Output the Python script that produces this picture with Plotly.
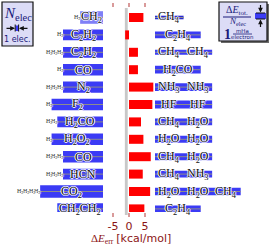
import plotly.graph_objects as go

# ---------------- data ----------------
reactants = ["CH<sub>2</sub>", "C<sub>2</sub>H<sub>2</sub>", "C<sub>2</sub>H<sub>2</sub>", "CO",
             "N<sub>2</sub>", "F<sub>2</sub>", "H<sub>2</sub>CO", "H<sub>2</sub>O<sub>2</sub>",
             "CO", "HCN", "CO<sub>2</sub>", "CH<sub>2</sub>CH<sub>2</sub>"]
reactant_elec = [8, 14, 14, 14, 14, 18, 16, 18, 14, 14, 22, 16]
h2_count = [1, 1, 3, 1, 3, 1, 2, 1, 3, 3, 4, 0]
products = [["CH<sub>4</sub>"], ["C<sub>2</sub>H<sub>4</sub>"], ["CH<sub>4</sub>", "CH<sub>4</sub>"],
            ["H<sub>2</sub>CO"], ["NH<sub>3</sub>", "NH<sub>3</sub>"], ["HF", "HF"],
            ["CH<sub>4</sub>", "H<sub>2</sub>O"], ["H<sub>2</sub>O", "H<sub>2</sub>O"],
            ["CH<sub>4</sub>", "H<sub>2</sub>O"], ["CH<sub>4</sub>", "NH<sub>3</sub>"],
            ["H<sub>2</sub>O", "H<sub>2</sub>O", "CH<sub>4</sub>"], ["C<sub>2</sub>H<sub>4</sub>"]]
product_elec = [[10], [16], [10, 10], [16], [10, 10], [10, 10], [10, 10], [10, 10],
                [10, 10], [10, 10], [10, 10, 10], [16]]
error_kcal = [4.5, -1.2, 2.8, 2.8, 7.6, 7.3, 3.75, 4.5, 6.8, 4.3, 6.6, 4.8]
left_de_per_elec = [2.1, 1.8, 1.8, 1.9, 1.9, 1.9, 1.8, 1.9, 1.9, 1.8, 2.1, 1.9]
right_de_per_elec = [0.6, 1.15, 0.85, 1.3, 1.3, 1.3, 1.15, 1.15, 1.15, 1.15, 1.25, 1.1]
x_ticks = [-5, 0, 5]

# ---------------- layout constants ----------------
W, H = 271, 245
ROW_PX, ROW0_PX = 17.4, 17.5
Y_TOP_PX, Y_BOT_PX = 8, 212
ZERO_PX, KCAL_PX = 129, 3.2
ELEC_PX = 2.857
LEFT_END_PX, RIGHT_START_PX = 103, 155
MHA_PX = 6.0
BLUE = "#3b3bf5"
RED = "#ff0000"
DARKRED = "#8b1515"
NAVY = "#1a1a7a"
HALO = "white 1px 0px 0px, white -1px 0px 0px, white 0px 1px 0px, white 0px -1px 0px"
SERIF = "Liberation Serif"

def PX(x):
    return x / W

def PY(y):
    return 1 - y / H

rows = list(range(len(reactants)))
left_total = [n + 2 * h for n, h in zip(reactant_elec, h2_count)]
right_total = [sum(p) for p in product_elec]

fig = go.Figure()

# gray reference band
fig.add_shape(type="rect", xref="x", yref="paper", x0=-1.3, x1=-0.4,
              y0=PY(215), y1=PY(8), fillcolor="#c8c8c8", line_width=0, layer="below")

# red error bars
fig.add_trace(go.Bar(orientation="h", y=rows, x=error_kcal, xaxis="x", yaxis="y",
                     width=9 / ROW_PX, marker=dict(color=RED, line_width=0),
                     hoverinfo="skip"))

# left reactant boxes
left_colors = ["#7f7ff7"] + [BLUE] * (len(rows) - 1)
fig.add_trace(go.Bar(orientation="h", y=rows, x=reactant_elec,
                     base=[-n for n in reactant_elec], xaxis="x2", yaxis="y",
                     width=[t * MHA_PX / ROW_PX for t in left_de_per_elec],
                     marker=dict(color=left_colors, line_width=0), hoverinfo="skip"))

# right product boxes
right_colors = ["#2a2ad0"] + [BLUE] * (len(rows) - 1)
fig.add_trace(go.Bar(orientation="h", y=rows, x=right_total, base=[0] * len(rows),
                     xaxis="x3", yaxis="y",
                     width=[t * MHA_PX / ROW_PX for t in right_de_per_elec],
                     marker=dict(color=right_colors, line_width=0), hoverinfo="skip"))

# gray lines through the rows
lx, ly, rx, ry = [], [], [], []
for r in rows:
    lx += [-left_total[r], 0, None]
    ly += [r, r, None]
    rx += [0, right_total[r], None]
    ry += [r, r, None]
fig.add_trace(go.Scatter(x=lx, y=ly, xaxis="x2", yaxis="y", mode="lines",
                         line=dict(color="#8c8c8c", width=1), hoverinfo="skip"))
fig.add_trace(go.Scatter(x=rx, y=ry, xaxis="x3", yaxis="y", mode="lines",
                         line=dict(color="#8c8c8c", width=1), hoverinfo="skip"))

ann = []
C = dict(showarrow=False, xanchor="center", yanchor="middle")
# molecule labels
for r in rows:
    n = reactant_elec[r]
    ann.append(dict(xref="x2", yref="y", x=-n / 2, y=r, text=reactants[r], **C,
                    font=dict(family=SERIF, size=12, color="#111", shadow=HALO)))
    for k in range(h2_count[r]):
        ann.append(dict(xref="x2", yref="y", x=-(n + 2 * k + 1), y=r,
                        text="H<sub>2</sub>", **C,
                        font=dict(family=SERIF, size=6, color="#333", shadow=HALO)))
    start = 0
    for name, e in zip(products[r], product_elec[r]):
        ann.append(dict(xref="x3", yref="y", x=start + e / 2, y=r, text=name, **C,
                        font=dict(family=SERIF, size=12, color="#111", shadow=HALO)))
        start += e

# axis title
ann.append(dict(xref="paper", yref="paper", x=PX(131), y=PY(238), **C,
                text=("<span style='font-family:Liberation Serif'>Δ<i>E</i><sub>err</sub></span>"
                      " <span style='font-family:DejaVu Sans'>[kcal/mol]</span>"),
                font=dict(size=11, color=DARKRED)))

# ---------- legend boxes ----------
shapes = []
def box(x0, y0, x1, y1):
    shapes.append(dict(type="rect", xref="paper", yref="paper", x0=PX(x0 + 2), x1=PX(x1 + 2),
                       y0=PY(y1 + 2), y1=PY(y0 + 2), fillcolor="#6a6a6a", line_width=0))
    shapes.append(dict(type="rect", xref="paper", yref="paper", x0=PX(x0), x1=PX(x1),
                       y0=PY(y1), y1=PY(y0), fillcolor="#dcdcf6",
                       line=dict(color="#111", width=1.2)))

box(2, 2, 33, 46)
box(219, 2, 267, 41)
# left legend
ann.append(dict(xref="paper", yref="paper", x=PX(17.5), y=PY(14), **C,
                text="<i>N</i><sub>elec</sub>",
                font=dict(family=SERIF, size=15, color=NAVY)))
shapes.append(dict(type="rect", xref="paper", yref="paper", x0=PX(15.5), x1=PX(15.5 + ELEC_PX),
                   y0=PY(31), y1=PY(25.5), fillcolor=BLUE, line_width=0))
for xx in (15.2, 18.6):
    shapes.append(dict(type="line", xref="paper", yref="paper", x0=PX(xx), x1=PX(xx),
                       y0=PY(31.5), y1=PY(24.5), line=dict(color="#111", width=1)))
arrow = dict(showarrow=True, arrowhead=2, arrowsize=0.8, arrowwidth=1.2,
             arrowcolor="#111", text="", axref="pixel", ayref="pixel")
ann.append(dict(xref="paper", yref="paper", x=PX(15), y=PY(28.3), ax=-10, ay=0, **arrow))
ann.append(dict(xref="paper", yref="paper", x=PX(19), y=PY(28.3), ax=10, ay=0, **arrow))
ann.append(dict(xref="paper", yref="paper", x=PX(17.5), y=PY(40), **C,
                text="1 elec.", font=dict(family="DejaVu Sans", size=8, color=NAVY)))
# right legend
ann.append(dict(xref="paper", yref="paper", x=PX(237), y=PY(10.5), **C,
                text="Δ<i>E</i><sub>tot.</sub>",
                font=dict(family=SERIF, size=10, color=NAVY)))
shapes.append(dict(type="line", xref="paper", yref="paper", x0=PX(223), x1=PX(251),
                   y0=PY(17), y1=PY(17), line=dict(color=NAVY, width=1)))
ann.append(dict(xref="paper", yref="paper", x=PX(237), y=PY(22), **C,
                text="<i>N</i><sub>elec</sub>",
                font=dict(family=SERIF, size=9, color=NAVY)))
shapes.append(dict(type="rect", xref="paper", yref="paper", x0=PX(255), x1=PX(266),
                   y0=PY(13 + MHA_PX), y1=PY(13), fillcolor=BLUE, line_width=0))
for yy in (13, 13 + MHA_PX):
    shapes.append(dict(type="line", xref="paper", yref="paper", x0=PX(256), x1=PX(265),
                       y0=PY(yy), y1=PY(yy), line=dict(color="#111", width=1)))
ann.append(dict(xref="paper", yref="paper", x=PX(260.5), y=PY(12.5), ax=0, ay=-9, **arrow))
ann.append(dict(xref="paper", yref="paper", x=PX(260.5), y=PY(19.5), ax=0, ay=9, **arrow))
ann.append(dict(xref="paper", yref="paper", x=PX(227), y=PY(34), **C,
                text="<b>1</b>", font=dict(family=SERIF, size=14, color=NAVY)))
ann.append(dict(xref="paper", yref="paper", x=PX(242.5), y=PY(31), **C,
                text="mHa", font=dict(family="DejaVu Sans", size=5.5, color=NAVY)))
shapes.append(dict(type="line", xref="paper", yref="paper", x0=PX(233), x1=PX(252),
                   y0=PY(34), y1=PY(34), line=dict(color=NAVY, width=0.8)))
ann.append(dict(xref="paper", yref="paper", x=PX(242.5), y=PY(37.3), **C,
                text="electron", font=dict(family="DejaVu Sans", size=5.5, color=NAVY)))

fig.update_layout(
    width=W, height=H, margin=dict(l=0, r=0, t=0, b=0),
    plot_bgcolor="white", paper_bgcolor="white", showlegend=False, barmode="overlay",
    xaxis=dict(domain=[0, 1], range=[(0 - ZERO_PX) / KCAL_PX, (W - ZERO_PX) / KCAL_PX],
               tickvals=x_ticks, ticktext=["-5", "0", "5"], ticks="outside", ticklen=4,
               tickwidth=1.5, tickcolor="#d99a9a", mirror="ticks", showline=False,
               showgrid=False, zeroline=False,
               tickfont=dict(family="DejaVu Sans", size=11, color=DARKRED)),
    xaxis2=dict(domain=[0, 1], overlaying="x", visible=False,
                range=[(0 - LEFT_END_PX) / ELEC_PX, (W - LEFT_END_PX) / ELEC_PX]),
    xaxis3=dict(domain=[0, 1], overlaying="x", visible=False,
                range=[(0 - RIGHT_START_PX) / ELEC_PX, (W - RIGHT_START_PX) / ELEC_PX]),
    yaxis=dict(domain=[PY(Y_BOT_PX), PY(Y_TOP_PX)], visible=False,
               range=[(Y_BOT_PX - ROW0_PX) / ROW_PX, (Y_TOP_PX - ROW0_PX) / ROW_PX]),
    annotations=ann, shapes=shapes,
)

fig.write_html("out.html", config={"displayModeBar": False},
               post_script="document.body.style.margin='0';")
